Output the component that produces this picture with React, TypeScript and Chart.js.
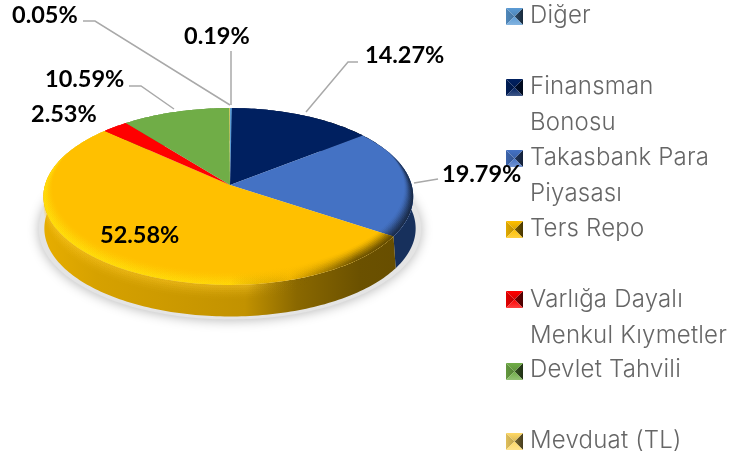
import React, { useEffect, useRef } from "react";
import { Chart, registerables } from "chart.js";

Chart.register(...registerables);

const categories = ["Diğer", "Finansman Bonosu", "Takasbank Para Piyasası", "Ters Repo", "Varlığa Dayalı Menkul Kıymetler", "Devlet Tahvili", "Mevduat (TL)"];
const shares = [0.19, 14.27, 19.79, 52.58, 2.53, 10.59, 0.05];
const percentLabels = ["0.19%", "14.27%", "19.79%", "52.58%", "2.53%", "10.59%", "0.05%"];
const sliceColors = ["#5b9bd5", "#002060", "#4472c4", "#ffc000", "#ff0000", "#70ad47", "#ffd966"];
const legendLines = [["Diğer"], ["Finansman", "Bonosu"], ["Takasbank Para", "Piyasası"], ["Ters Repo"], ["Varlığa Dayalı", "Menkul Kıymetler"], ["Devlet Tahvili"], ["Mevduat (TL)"]];

// label placement: [left x, baseline y]
const labelAt = [[184, 44], [365, 63], [442, 182], [100, 243], [31, 122], [45, 87], [12, 23]];
const leaderPaths: number[][][] = [
  [[231, 51], [231, 105]],
  [[358, 62], [348, 62], [306, 112]],
  [[438, 179], [414, 183]],
  [],
  [],
  [[129, 86], [141, 86], [174, 109]],
  [[83, 21], [95, 21], [230, 105]],
];
const swatchTop = [8, 79, 150, 221, 291, 363, 433];
const lineBase = [[23], [94, 130], [165, 201], [236], [307, 343], [377], [448]];

const K = 0.13;
const SQUASH = 0.47;
const DEPTH = 32;
const RIGHT_TOP = 0.982;

function shade(hex: string, f: number, alpha = 1) {
  const n = parseInt(hex.slice(1), 16);
  const ch = [(n >> 16) & 255, (n >> 8) & 255, n & 255].map((c) =>
    Math.round(f <= 1 ? c * f : c + (255 - c) * (f - 1))
  );
  return `rgba(${ch[0]},${ch[1]},${ch[2]},${alpha})`;
}

const pseudo3d = {
  id: "pseudo3d",
  beforeDatasetDraw(chart: any) {
    const ctx: CanvasRenderingContext2D = chart.ctx;
    const arcs = chart.getDatasetMeta(0).data as any[];
    const colors = chart.data.datasets[0].backgroundColor as string[];
    const cx = arcs[0].x, cy = arcs[0].y, R = arcs[0].outerRadius;
    const P = (ang: number, dz = 0, sc = 1, rs = RIGHT_TOP) => {
      const u = Math.cos(ang), v = Math.sin(ang);
      const d = 1 - K * v;
      const xs = u > 0 ? rs : 1;
      return [cx + (R * sc * xs * u) / d, cy + (R * SQUASH * sc * v) / d + dz];
    };
    const trace = (a0: number, a1: number, dz = 0, sc = 1, rs = RIGHT_TOP, first = false) => {
      const n = Math.max(2, Math.ceil(Math.abs(a1 - a0) / 0.02));
      for (let i = 0; i <= n; i++) {
        const p = P(a0 + ((a1 - a0) * i) / n, dz, sc, rs);
        if (i === 0 && first) ctx.moveTo(p[0], p[1]);
        else ctx.lineTo(p[0], p[1]);
      }
    };
    const TAU = Math.PI * 2;

    // soft floor shadow
    ctx.save();
    ctx.shadowColor = "rgba(0,0,0,0.28)";
    ctx.shadowBlur = 12;
    ctx.shadowOffsetY = 1;
    ctx.fillStyle = "#e4e4e4";
    ctx.beginPath();
    trace(0, TAU, DEPTH, 1.025, 1, true);
    ctx.closePath();
    ctx.fill();
    ctx.restore();

    // side walls
    arcs.forEach((el, i) => {
      const c = colors[i];
      const g = ctx.createLinearGradient(cx - R, 0, cx + R, 0);
      g.addColorStop(0, shade(c, 0.9));
      g.addColorStop(0.14, shade(c, 0.84));
      g.addColorStop(0.54, shade(c, 0.76));
      g.addColorStop(0.68, shade(c, 0.54));
      g.addColorStop(0.85, shade(c, 0.42));
      g.addColorStop(1, shade(c, 0.4));
      ctx.fillStyle = i === 2 ? "#17305c" : g;
      ctx.beginPath();
      trace(el.startAngle, el.endAngle, 0, 1, RIGHT_TOP, true);
      trace(el.endAngle, el.startAngle, DEPTH, 0.995, 1);
      ctx.closePath();
      ctx.fill();
      // rounded top lip of the wall
      for (let s = 0; s < 6; s++) {
        const g2 = ctx.createLinearGradient(cx - R, 0, cx + R, 0);
        const al = 0.16 * (1 - s / 6);
        g2.addColorStop(0, shade(c, 1.15, al));
        g2.addColorStop(0.55, shade(c, 1.15, al));
        g2.addColorStop(0.72, shade(c, 0.4, 0));
        g2.addColorStop(1, shade(c, 0.4, 0));
        ctx.fillStyle = g2;
        ctx.beginPath();
        trace(el.startAngle, el.endAngle, 0, 1, RIGHT_TOP, true);
        trace(el.endAngle, el.startAngle, 3 + s * 2.2, 0.999, RIGHT_TOP);
        ctx.closePath();
        ctx.fill();
      }
    });

    // top faces, from the element angles
    arcs.forEach((el, i) => {
      const c = colors[i];
      const wedge = () => {
        ctx.beginPath();
        ctx.moveTo(cx, cy);
        trace(el.startAngle, el.endAngle);
        ctx.closePath();
      };
      ctx.fillStyle = c;
      wedge();
      ctx.fill();
      // bevel at the rim
      ctx.save();
      wedge();
      ctx.clip();
      const steps = 9;
      const hi = c === "#ffc000" ? "#ffe000" : c;
      for (let s = 0; s < steps; s++) {
        const al = 0.2 * (1 - s / steps);
        const g = ctx.createLinearGradient(cx - R, 0, cx + R, 0);
        g.addColorStop(0, shade(hi, 1.05, al * 1.5));
        g.addColorStop(0.5, shade(hi, 1.05, al * 0.9));
        g.addColorStop(0.66, shade(c, 0.6, al * 0.15));
        g.addColorStop(0.84, shade(c, 0.3, al * 1.4));
        g.addColorStop(1, shade(c, 0.25, al * 1.7));
        ctx.fillStyle = g;
        ctx.beginPath();
        trace(0, TAU, 0, 1, RIGHT_TOP, true);
        ctx.closePath();
        trace(TAU, 0, -(s + 1) * 0.95, 1 - 0.0055 * (s + 1), RIGHT_TOP, true);
        ctx.closePath();
        ctx.fill("evenodd");
      }
      ctx.restore();
    });
    return false;
  },
  afterDatasetsDraw(chart: any) {
    const ctx: CanvasRenderingContext2D = chart.ctx;
    const labels = chart.data.labels as string[];
    const colors = chart.data.datasets[0].backgroundColor as string[];

    // leader lines
    ctx.save();
    ctx.strokeStyle = "#a9a9a9";
    ctx.lineWidth = 1.5;
    leaderPaths.forEach((path) => {
      if (!path.length) return;
      ctx.beginPath();
      path.forEach((p, j) => (j ? ctx.lineTo(p[0], p[1]) : ctx.moveTo(p[0], p[1])));
      ctx.stroke();
    });
    ctx.restore();

    // legend
    ctx.save();
    labels.forEach((_, i) => {
      const x = 506, y = swatchTop[i], s = 17, c = colors[i];
      const m = [x + s / 2, y + s / 2];
      const tri = (pts: number[][], outer: string, inner: string) => {
        const mid = [(pts[0][0] + pts[1][0]) / 2, (pts[0][1] + pts[1][1]) / 2];
        const g = ctx.createLinearGradient(mid[0], mid[1], m[0], m[1]);
        g.addColorStop(0, outer);
        g.addColorStop(1, inner);
        ctx.fillStyle = g;
        ctx.beginPath();
        ctx.moveTo(pts[0][0], pts[0][1]);
        ctx.lineTo(pts[1][0], pts[1][1]);
        ctx.lineTo(m[0], m[1]);
        ctx.closePath();
        ctx.fill();
      };
      const tl = [x, y], tr = [x + s, y], br = [x + s, y + s], bl = [x, y + s];
      tri([bl, tl], shade(c, 0.88), shade(c, 0.75));
      tri([tr, br], shade(c, 0.28), shade(c, 0.48));
      tri([tl, tr], shade(c, 1.0), shade(c, 0.85));
      tri([bl, br], shade(c, 1.25), shade(c, 1.0));
    });
    ctx.fillStyle = "#666666";
    ctx.font = "300 24px Inter";
    (ctx as any).letterSpacing = "0.2px";
    ctx.textBaseline = "alphabetic";
    ctx.textAlign = "left";
    legendLines.forEach((lines, i) => {
      lines.forEach((t, j) => ctx.fillText(t, 530, lineBase[i][j]));
    });
    ctx.restore();

    // value labels
    ctx.save();
    ctx.fillStyle = "#000000";
    ctx.font = "700 23.5px Lato";
    ctx.textBaseline = "alphabetic";
    ctx.textAlign = "left";
    percentLabels.forEach((t, i) => ctx.fillText(t, labelAt[i][0], labelAt[i][1]));
    ctx.restore();
  },
};

export default function App() {
  const ref = useRef<HTMLCanvasElement>(null);
  useEffect(() => {
    document.body.style.margin = "0";
    const chart = new Chart(ref.current as HTMLCanvasElement, {
      type: "pie",
      data: {
        labels: categories,
        datasets: [{ data: shares, backgroundColor: sliceColors, borderWidth: 0 }],
      },
      options: {
        responsive: false,
        animation: false,
        events: [],
        layout: { padding: { right: 277, bottom: 87 } },
        plugins: { legend: { display: false }, tooltip: { enabled: false }, title: { display: false } },
      },
      plugins: [pseudo3d],
    } as any);
    return () => chart.destroy();
  }, []);
  return (
    <div style={{ position: "absolute", left: 0, top: 0, width: 737, height: 457, background: "#fff", overflow: "hidden" }}>
      <canvas ref={ref} width={737} height={457} style={{ display: "block" }} />
    </div>
  );
}
